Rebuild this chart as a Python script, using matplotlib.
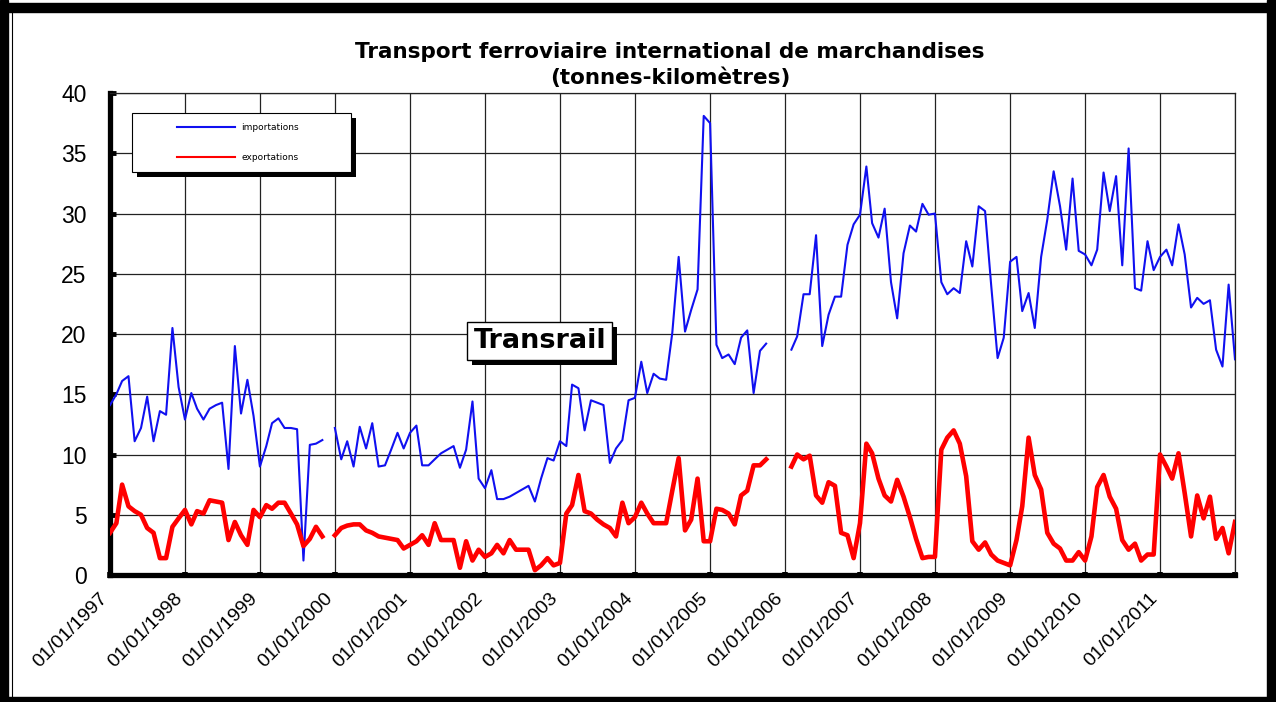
import numpy as np
import pandas as pd
import matplotlib
matplotlib.use("Agg")
import matplotlib.pyplot as plt
from matplotlib import patheffects
from matplotlib.lines import Line2D
from matplotlib.patches import Rectangle
from matplotlib.transforms import ScaledTranslation

# monthly values, Jan 1997 .. Jan 2012 (None = no data)
importations = [
    14.1, 15.0, 16.1, 16.5, 11.1, 12.2, 14.8, 11.1, 13.6, 13.3, 20.5, 15.6,   # 1997
    12.9, 15.1, 13.8, 12.9, 13.8, 14.1, 14.3, 8.8, 19.0, 13.4, 16.2, 13.2,    # 1998
    9.0, 10.7, 12.6, 13.0, 12.2, 12.2, 12.1, 1.2, 10.8, 10.9, 11.2, None,     # 1999
    12.2, 9.6, 11.1, 9.0, 12.3, 10.5, 12.6, 9.0, 9.1, 10.4, 11.8, 10.5,       # 2000
    11.8, 12.4, 9.1, 9.1, 9.6, 10.1, 10.4, 10.7, 8.9, 10.4, 14.4, 8.0,        # 2001
    7.2, 8.7, 6.3, 6.3, 6.5, 6.8, 7.1, 7.4, 6.1, 8.0, 9.7, 9.5,               # 2002
    11.1, 10.7, 15.8, 15.5, 12.0, 14.5, 14.3, 14.1, 9.3, 10.5, 11.2, 14.5,    # 2003
    14.7, 17.7, 15.1, 16.7, 16.3, 16.2, 20.1, 26.4, 20.2, 22.0, 23.7, 38.1,   # 2004
    37.5, 19.1, 18.0, 18.3, 17.5, 19.7, 20.3, 15.1, 18.6, 19.2, None, None,   # 2005
    None, 18.7, 19.8, 23.3, 23.3, 28.2, 19.0, 21.6, 23.1, 23.1, 27.4, 29.1,   # 2006
    29.9, 33.9, 29.2, 28.0, 30.4, 24.3, 21.3, 26.7, 29.0, 28.5, 30.8, 29.9,   # 2007
    30.0, 24.3, 23.3, 23.8, 23.4, 27.7, 25.6, 30.6, 30.2, 24.0, 18.0, 19.7,   # 2008
    26.0, 26.4, 21.9, 23.4, 20.5, 26.4, 29.5, 33.5, 30.6, 27.0, 32.9, 26.9,   # 2009
    26.6, 25.7, 27.0, 33.4, 30.2, 33.1, 25.7, 35.4, 23.8, 23.6, 27.7, 25.3,   # 2010
    26.4, 27.0, 25.7, 29.1, 26.6, 22.2, 23.0, 22.5, 22.8, 18.7, 17.3, 24.1,   # 2011
    17.9,
]
exportations = [
    3.5, 4.3, 7.5, 5.7, 5.3, 5.0, 3.9, 3.5, 1.4, 1.4, 4.0, 4.7,
    5.4, 4.2, 5.3, 5.1, 6.2, 6.1, 6.0, 2.9, 4.4, 3.3, 2.5, 5.4,
    4.8, 5.8, 5.5, 6.0, 6.0, 5.1, 4.2, 2.4, 3.0, 4.0, 3.2, None,
    3.3, 3.9, 4.1, 4.2, 4.2, 3.7, 3.5, 3.2, 3.1, 3.0, 2.9, 2.2,
    2.5, 2.8, 3.3, 2.5, 4.3, 2.9, 2.9, 2.9, 0.6, 2.8, 1.2, 2.1,
    1.5, 1.8, 2.5, 1.8, 2.9, 2.1, 2.1, 2.1, 0.4, 0.8, 1.4, 0.8,
    1.0, 5.1, 5.8, 8.3, 5.3, 5.1, 4.6, 4.2, 3.9, 3.2, 6.0, 4.3,
    4.8, 6.0, 5.1, 4.3, 4.3, 4.3, 7.0, 9.7, 3.7, 4.6, 8.0, 2.8,
    2.8, 5.5, 5.4, 5.1, 4.2, 6.6, 7.0, 9.1, 9.1, 9.6, None, None,
    None, 9.0, 10.0, 9.6, 9.9, 6.6, 6.0, 7.7, 7.4, 3.5, 3.3, 1.4,
    4.3, 10.9, 10.1, 8.0, 6.6, 6.1, 7.9, 6.5, 4.8, 3.0, 1.4, 1.5,
    1.5, 10.4, 11.4, 12.0, 10.9, 8.2, 2.8, 2.1, 2.7, 1.7, 1.2, 1.0,
    0.8, 2.9, 5.7, 11.4, 8.3, 7.1, 3.5, 2.6, 2.2, 1.2, 1.2, 1.9,
    1.2, 3.2, 7.3, 8.3, 6.5, 5.5, 2.9, 2.1, 2.6, 1.2, 1.7, 1.7,
    10.0, 9.0, 8.0, 10.1, 6.8, 3.2, 6.6, 4.7, 6.5, 3.0, 3.9, 1.8,
    4.4,
]
years = list(range(1997, 2013))
labels = ["01/01/%d" % y for y in years[:-1]] + [""]

months = pd.date_range("1997-01-01", periods=len(importations), freq="MS")
imp = np.array(importations, dtype=float)
exp = np.array(exportations, dtype=float)

W, H = 1276, 702
fig = plt.figure(figsize=(W / 100, H / 100), dpi=100)
ax = fig.add_axes([110 / W, 1 - 575 / H, 1125 / W, 482 / H])

ax.plot(months, imp, color="#1010f0", lw=1.5, zorder=3)
ax.plot(months, exp, color="#ff0000", lw=3.3, zorder=3, solid_joinstyle="round")

ax.set_ylim(0, 40)
ax.set_yticks(range(0, 41, 5))
ticks = pd.to_datetime(["%d-01-01" % y for y in years])
ax.set_xlim(ticks[0], ticks[-1])
ax.set_xticks(ticks)
ax.set_xticklabels(labels, rotation=45, ha="right", va="center",
                   rotation_mode="anchor", fontsize=14, family="Liberation Sans")
ax.tick_params(axis="x", direction="inout", length=4, width=4, pad=13)
ax.tick_params(axis="y", direction="in", length=4, width=3.5, pad=17,
               labelsize=16.5)
for lbl in ax.get_yticklabels():
    lbl.set_family("Liberation Sans")
shift = ScaledTranslation(-5 / 100, 0, fig.dpi_scale_trans)
for lbl in ax.get_xticklabels():
    lbl.set_transform(lbl.get_transform() + shift)

ax.grid(True, color="#222222", lw=0.9)
for side in ("left", "bottom"):
    ax.spines[side].set_linewidth(3.8)
for side in ("top", "right"):
    ax.spines[side].set_linewidth(0.9)
    ax.spines[side].set_color("#222222")

# legend box with drop shadow
lx, ly, lw_, lh = 0.0193, 0.836, 0.1947, 0.1224
ax.add_patch(Rectangle((lx + 0.0044, ly - 0.0104), lw_, lh, transform=ax.transAxes,
                       facecolor="black", edgecolor="none", zorder=4))
ax.add_patch(Rectangle((lx, ly), lw_, lh, transform=ax.transAxes,
                       facecolor="white", edgecolor="black", lw=0.8, zorder=4.5))
handles = [Line2D([], [], color="#1010f0", lw=1.5),
           Line2D([], [], color="#ff0000", lw=1.5)]
leg = ax.legend(handles, ["importations", "exportations"], loc="center left",
                bbox_to_anchor=(0.0596, 0.8975), frameon=False, fontsize=6.5,
                handlelength=6.4, handletextpad=0.7, labelspacing=2.3,
                borderpad=0, borderaxespad=0)
leg.set_zorder(5)

# Transrail label, box drawn with a solid shadow
tr = ax.text(0.382, 0.486, "Transrail", transform=ax.transAxes,
             ha="center", va="center", fontsize=19.5, fontweight="bold",
             color="black", zorder=4.5,
             bbox=dict(boxstyle="square,pad=0.22", facecolor="white",
                       edgecolor="black", lw=1.0))
tr.get_bbox_patch().set_path_effects([
    patheffects.SimplePatchShadow(offset=(3.6, -3.6), shadow_rgbFace="black", alpha=1),
    patheffects.Normal(),
])

fig.text(670 / W, 1 - 65 / H,
         "Transport ferroviaire international de marchandises\n(tonnes-kilomètres)",
         ha="center", va="center", fontsize=15.5, fontweight="bold",
         family="DejaVu Sans", linespacing=1.38)

# outer frame
for x0, y0, w, h in [(0, 0, 8, H), (0, H - 12, W, 9), (W - 9, 0, 9, H), (0, 0, W, 5)]:
    fig.patches.append(Rectangle((x0 / W, y0 / H), w / W, h / H,
                                 transform=fig.transFigure, color="black"))
fig.lines.append(Line2D([11.5 / W, 11.5 / W], [5 / H, 1 - 12 / H],
                        transform=fig.transFigure, color="black", lw=0.8))

fig.savefig("out.png", dpi=100)
